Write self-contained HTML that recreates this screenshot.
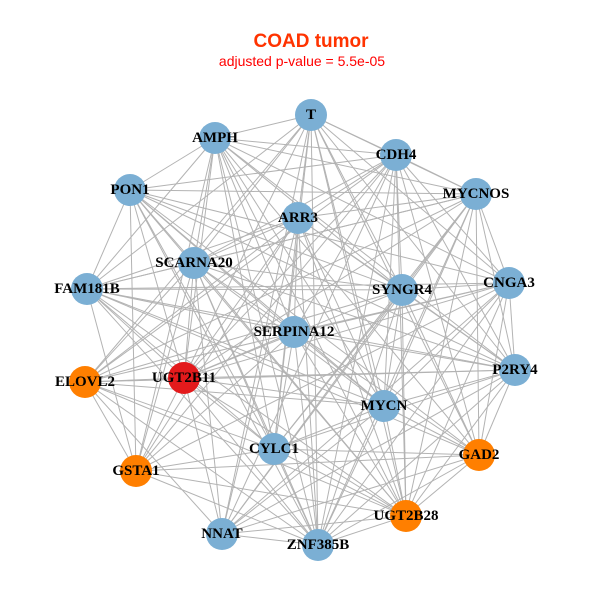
<!DOCTYPE html>
<html><head><meta charset="utf-8"><style>
html,body{margin:0;padding:0;background:#fff;}
svg{display:block}
text.n{font-family:"Liberation Serif",serif;font-weight:bold;font-size:15px;text-anchor:middle;dominant-baseline:central;fill:#000}
</style></head><body>
<svg id="s" width="600" height="600" xmlns="http://www.w3.org/2000/svg">
<text x="311" y="47" font-family="Liberation Sans,sans-serif" font-weight="bold" font-size="19" fill="#FF3300" text-anchor="middle">COAD tumor</text>
<text x="302" y="66" font-family="Liberation Sans,sans-serif" font-size="14" fill="#FF0000" text-anchor="middle">adjusted p-value = 5.5e-05</text>
<g id="e" stroke="#b3b3b3" stroke-width="1"></g>
<g id="c"></g>
<g id="t"></g>
</svg>
<script>
var N=[["T",311,115,"b"],["AMPH",215,138,"b"],["CDH4",396,155,"b"],["PON1",130,190,"b"],["MYCNOS",476,194,"b"],["ARR3",298,218,"b"],["SCARNA20",194,263,"b"],["SYNGR4",402,290,"b"],["FAM181B",87,289,"b"],["CNGA3",509,283,"b"],["SERPINA12",294,332,"b"],["P2RY4",515,370,"b"],["ELOVL2",85,382,"o"],["UGT2B11",184,378,"r"],["MYCN",384,406,"b"],["CYLC1",274,449,"b"],["GAD2",479,455,"o"],["GSTA1",136,471,"o"],["UGT2B28",406,516,"o"],["NNAT",222,534,"b"],["ZNF385B",318,545,"b"]];
var col={b:"#7BAFD4",o:"#FF7F00",r:"#E31A1C"};
var ns="http://www.w3.org/2000/svg",E=document.getElementById("e"),C=document.getElementById("c"),T=document.getElementById("t");
var k=0;
for(var i=0;i<N.length;i++)for(var j=i+1;j<N.length;j++){k++;if(k%7==3)continue;
var l=document.createElementNS(ns,"line");l.setAttribute("x1",N[i][1]);l.setAttribute("y1",N[i][2]);l.setAttribute("x2",N[j][1]);l.setAttribute("y2",N[j][2]);E.appendChild(l);}
N.forEach(function(n){var c=document.createElementNS(ns,"circle");c.setAttribute("cx",n[1]);c.setAttribute("cy",n[2]);c.setAttribute("r",16);c.setAttribute("fill",col[n[3]]);C.appendChild(c);
var t=document.createElementNS(ns,"text");t.setAttribute("class","n");t.setAttribute("x",n[1]);t.setAttribute("y",n[2]);t.textContent=n[0];T.appendChild(t);});
</script>
</body></html>
